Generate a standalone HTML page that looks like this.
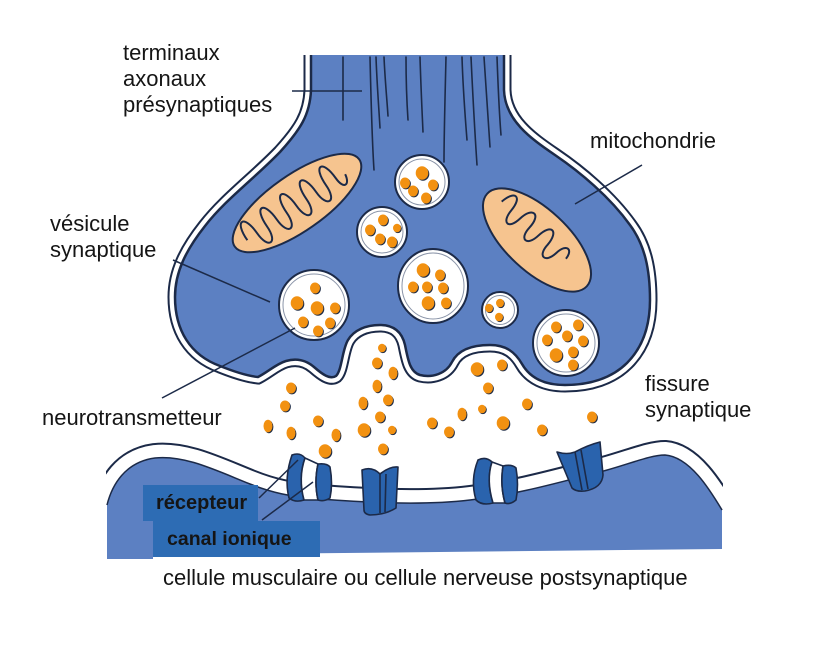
<!DOCTYPE html>
<html><head><meta charset="utf-8">
<style>
html,body{margin:0;padding:0;background:#fff;}
svg{display:block;}
text{font-family:"Liberation Sans",Arial,sans-serif;fill:#151515;}
</style></head><body>
<svg width="837" height="645" viewBox="0 0 837 645" xmlns="http://www.w3.org/2000/svg">
<defs>
 <clipPath id="pc"><rect x="106" y="380" width="617" height="200"/></clipPath>
 <g id="d"><ellipse cx="0.9" cy="0.9" rx="5" ry="5.5" fill="#1d2b46"/><ellipse cx="0" cy="0" rx="5" ry="5.5" fill="#f29111"/></g>
 <g id="D"><ellipse cx="1" cy="1" rx="6.3" ry="6.8" fill="#1d2b46"/><ellipse cx="0" cy="0" rx="6.3" ry="6.8" fill="#f29111"/></g>
 <g id="s"><ellipse cx="0.8" cy="0.8" rx="4" ry="4.3" fill="#1d2b46"/><ellipse cx="0" cy="0" rx="4" ry="4.3" fill="#f29111"/></g>
 <g id="v"><ellipse cx="0.9" cy="0.9" rx="4.5" ry="6.3" fill="#1d2b46"/><ellipse cx="0" cy="0" rx="4.5" ry="6.3" fill="#f29111"/></g>
</defs>
<rect width="837" height="645" fill="#fff"/>

<!-- postsynaptic cell -->
<g clip-path="url(#pc)">
 <path d="M107,505 C112,485 125,462 155,458 C185,455 215,470 250,484 C270,492 290,497 320,499 C360,502 420,506 470,500 C520,494 560,482 600,472 C630,464 650,455 665,455 C690,457 710,490 722,510" fill="none" stroke="#1c2a48" stroke-width="30"/>
 <path d="M107,505 C112,485 125,462 155,458 C185,455 215,470 250,484 C270,492 290,497 320,499 C360,502 420,506 470,500 C520,494 560,482 600,472 C630,464 650,455 665,455 C690,457 710,490 722,510" fill="none" stroke="#fff" stroke-width="26"/>
</g>
<path d="M107,505 C112,485 125,462 155,458 C185,455 215,470 250,484 C270,492 290,497 320,499 C360,502 420,506 470,500 C520,494 560,482 600,472 C630,464 650,455 665,455 C690,457 710,490 722,510 L722,549 L153,555 L153,559 L107,559 Z" fill="#5c80c2"/>
<path d="M107,505 C112,485 125,462 155,458 C185,455 215,470 250,484 C270,492 290,497 320,499 C360,502 420,506 470,500 C520,494 560,482 600,472 C630,464 650,455 665,455 C690,457 710,490 722,510" fill="none" stroke="#1c2a48" stroke-width="1.5"/>

<!-- receptors -->
<g stroke="#1c2a48" stroke-width="1.6" stroke-linejoin="round">
 <path d="M292,455 Q300,452 305,458 Q298,478 304,500 Q295,503 289,498 Q284,478 292,455 Z" fill="#2a63ad"/>
 <path d="M305,458 L318,464 Q314,482 318,500 L304,500 Q298,478 305,458 Z" fill="#fff"/>
 <path d="M318,464 Q327,463 330,467 Q333,484 330,498 Q324,502 318,500 Q314,482 318,464 Z" fill="#2a63ad"/>
 <path d="M362,470 Q372,466 380,474 Q390,466 398,467 L396,508 Q385,515 370,515 Q364,514 364,510 Z" fill="#2a63ad"/>
 <path d="M380,474 L380,513 M386,474 L385,512" fill="none"/>
 <path d="M478,460 Q486,456 492,462 Q486,480 493,503 Q482,506 476,500 Q470,480 478,460 Z" fill="#2a63ad"/>
 <path d="M492,462 L503,466 Q500,485 505,503 L493,503 Q486,480 492,462 Z" fill="#fff"/>
 <path d="M503,466 Q512,464 516,468 Q519,485 516,500 Q510,505 505,503 Q500,485 503,466 Z" fill="#2a63ad"/>
 <path d="M557,452 Q567,455 575,452 Q588,445 600,442 L603,475 Q602,488 585,491 Q576,492 572,488 Z" fill="#2a63ad"/>
 <path d="M575,452 L582,490 M581,450 L588,489" fill="none"/>
</g>

<!-- presynaptic terminal -->
<path d="M311,40 L311,90 C310,115 300,130 280,152 C255,178 225,200 205,226 C186,250 175,272 175,297 C175,330 190,355 220,366 C235,372 248,376 258,377 C268,372 276,364 286,361 C296,358 306,360 314,367 C322,374 330,380 336,376 C342,370 342,350 348,340 C354,330 366,325 380,325 C394,325 402,332 405,345 C408,360 410,372 420,375 C432,378 446,374 452,362 C458,350 472,345 490,345 C506,345 515,352 522,364 C530,378 545,385 565,385 C590,385 612,378 627,363 C643,347 650,325 650,300 C650,270 645,245 630,225 C610,197 580,172 555,155 C530,138 505,120 504,90 L504,40 Z" fill="none" stroke="#1c2a48" stroke-width="15"/>
<path d="M311,40 L311,90 C310,115 300,130 280,152 C255,178 225,200 205,226 C186,250 175,272 175,297 C175,330 190,355 220,366 C235,372 248,376 258,377 C268,372 276,364 286,361 C296,358 306,360 314,367 C322,374 330,380 336,376 C342,370 342,350 348,340 C354,330 366,325 380,325 C394,325 402,332 405,345 C408,360 410,372 420,375 C432,378 446,374 452,362 C458,350 472,345 490,345 C506,345 515,352 522,364 C530,378 545,385 565,385 C590,385 612,378 627,363 C643,347 650,325 650,300 C650,270 645,245 630,225 C610,197 580,172 555,155 C530,138 505,120 504,90 L504,40 Z" fill="none" stroke="#fff" stroke-width="11"/>
<path d="M311,40 L311,90 C310,115 300,130 280,152 C255,178 225,200 205,226 C186,250 175,272 175,297 C175,330 190,355 220,366 C235,372 248,376 258,377 C268,372 276,364 286,361 C296,358 306,360 314,367 C322,374 330,380 336,376 C342,370 342,350 348,340 C354,330 366,325 380,325 C394,325 402,332 405,345 C408,360 410,372 420,375 C432,378 446,374 452,362 C458,350 472,345 490,345 C506,345 515,352 522,364 C530,378 545,385 565,385 C590,385 612,378 627,363 C643,347 650,325 650,300 C650,270 645,245 630,225 C610,197 580,172 555,155 C530,138 505,120 504,90 L504,40 Z" fill="#5c80c2" stroke="#1c2a48" stroke-width="2.5"/>
<rect x="280" y="0" width="260" height="55" fill="#fff"/>

<!-- axon fibres -->
<g stroke="#1c2a48" stroke-width="1.6" fill="none" stroke-linecap="round">
 <path d="M343,57 L343,120"/>
 <path d="M370,57 C371,100 372,140 374,170"/>
 <path d="M376,57 C377,85 379,110 380,128"/>
 <path d="M384,57 C385,80 387,100 388,116"/>
 <path d="M406,57 C406,85 407,105 408,120"/>
 <path d="M420,57 C421,90 422,110 423,132"/>
 <path d="M446,57 C445,100 444,135 444,162"/>
 <path d="M462,57 C463,90 465,115 467,140"/>
 <path d="M471,57 C473,100 475,135 477,165"/>
 <path d="M484,57 C486,90 488,120 490,147"/>
 <path d="M497,57 C498,85 499,110 501,135"/>
</g>

<!-- mitochondria -->
<g transform="translate(297,203) rotate(-35)">
 <ellipse rx="76" ry="28" fill="#f6c48f" stroke="#1c2a48" stroke-width="2"/>
 <path d="M-62,2 c0,-24 12,-24 12,0 c0,20 12,20 12,0 c0,-24 12,-24 12,0 c0,20 12,20 12,0 c0,-24 12,-24 12,0 c0,20 12,20 12,0 c0,-24 12,-24 12,0 c0,20 12,20 12,0 c0,-24 12,-24 12,0 c0,14 8,14 10,2" fill="none" stroke="#1c2a48" stroke-width="2"/>
</g>
<g transform="translate(537,240) rotate(43)">
 <ellipse rx="68" ry="31" fill="#f6c48f" stroke="#1c2a48" stroke-width="2"/>
 <path d="M-52,-4 c2,-18 12,-18 13,0 c1,16 11,16 12,0 c1,-18 13,-18 13,0 c0,16 11,16 12,0 c1,-18 12,-18 13,0 c0,16 11,16 12,0 c1,-14 10,-14 11,-2" fill="none" stroke="#1c2a48" stroke-width="2"/>
</g>

<!-- vesicles -->
<g fill="#fff" stroke="#1c2a48" stroke-width="2">
 <circle cx="422" cy="182" r="27"/>
 <circle cx="382" cy="232" r="25"/>
 <ellipse cx="433" cy="286" rx="35" ry="37"/>
 <circle cx="314" cy="305" r="35"/>
 <circle cx="500" cy="310" r="18"/>
 <circle cx="566" cy="343" r="33"/>
</g>
<g fill="none" stroke="#8a94a8" stroke-width="1">
 <circle cx="422" cy="182" r="23"/>
 <circle cx="382" cy="232" r="21"/>
 <ellipse cx="433" cy="286" rx="31" ry="33"/>
 <circle cx="314" cy="305" r="31"/>
 <circle cx="500" cy="310" r="14.5"/>
 <circle cx="566" cy="343" r="29"/>
</g>

<!-- vesicle contents -->
<use href="#D" x="422" y="173"/><use href="#d" x="405" y="183"/><use href="#d" x="413" y="191"/><use href="#d" x="433" y="185"/><use href="#d" x="426" y="198"/>
<use href="#d" x="383" y="220"/><use href="#d" x="370" y="230"/><use href="#d" x="380" y="239"/><use href="#s" x="397" y="228"/><use href="#d" x="392" y="242"/>
<use href="#D" x="423" y="270"/><use href="#d" x="440" y="275"/><use href="#d" x="413" y="287"/><use href="#d" x="427" y="287"/><use href="#d" x="443" y="288"/><use href="#D" x="428" y="303"/><use href="#d" x="446" y="303"/>
<use href="#d" x="315" y="288"/><use href="#D" x="297" y="303"/><use href="#D" x="317" y="308"/><use href="#d" x="335" y="308"/><use href="#d" x="303" y="322"/><use href="#d" x="330" y="323"/><use href="#d" x="318" y="331"/>
<use href="#s" x="500" y="303"/><use href="#s" x="489" y="308"/><use href="#s" x="499" y="317"/>
<use href="#d" x="556" y="327"/><use href="#d" x="578" y="325"/><use href="#d" x="547" y="340"/><use href="#d" x="567" y="336"/><use href="#d" x="583" y="341"/><use href="#D" x="556" y="355"/><use href="#d" x="573" y="352"/><use href="#d" x="573" y="365"/>

<!-- neurotransmitters in cleft -->
<use href="#s" x="382" y="348"/><use href="#d" x="377" y="363"/><use href="#v" x="393" y="373"/><use href="#v" x="377" y="386"/><use href="#v" x="363" y="403"/><use href="#d" x="388" y="400"/><use href="#d" x="380" y="417"/><use href="#D" x="364" y="430"/><use href="#s" x="392" y="430"/><use href="#d" x="383" y="449"/>
<use href="#d" x="291" y="388"/><use href="#d" x="285" y="406"/><use href="#v" x="268" y="426"/><use href="#v" x="291" y="433"/><use href="#d" x="318" y="421"/><use href="#v" x="336" y="435"/><use href="#D" x="325" y="451"/>
<use href="#D" x="477" y="369"/><use href="#d" x="502" y="365"/><use href="#d" x="488" y="388"/><use href="#s" x="482" y="409"/><use href="#v" x="462" y="414"/><use href="#d" x="432" y="423"/><use href="#d" x="449" y="432"/><use href="#D" x="503" y="423"/><use href="#d" x="527" y="404"/><use href="#d" x="542" y="430"/><use href="#d" x="592" y="417"/>

<!-- label boxes -->
<rect x="143" y="485" width="115" height="36" fill="#2d6cb4"/>
<rect x="153" y="521" width="167" height="36" fill="#2d6cb4"/>
<text x="156" y="509" font-size="20" font-weight="bold">récepteur</text>
<text x="167" y="545" font-size="19.5" font-weight="bold">canal ionique</text>

<!-- leader lines -->
<g stroke="#1c2a48" stroke-width="1.5" fill="none">
 <line x1="292" y1="91" x2="362" y2="91"/>
 <line x1="642" y1="165" x2="575" y2="204"/>
 <line x1="173" y1="260" x2="270" y2="302"/>
 <line x1="162" y1="398" x2="295" y2="328"/>
 <line x1="259" y1="498" x2="298" y2="460"/>
 <line x1="262" y1="520" x2="313" y2="482"/>
</g>

<!-- labels -->
<g font-size="22">
 <text x="123" y="60">terminaux</text>
 <text x="123" y="86">axonaux</text>
 <text x="123" y="112">présynaptiques</text>
 <text x="590" y="148">mitochondrie</text>
 <text x="50" y="231">vésicule</text>
 <text x="50" y="257">synaptique</text>
 <text x="42" y="425">neurotransmetteur</text>
 <text x="645" y="391">fissure</text>
 <text x="645" y="417">synaptique</text>
 <text x="163" y="585">cellule musculaire ou cellule nerveuse postsynaptique</text>
</g>
</svg>
</body></html>
